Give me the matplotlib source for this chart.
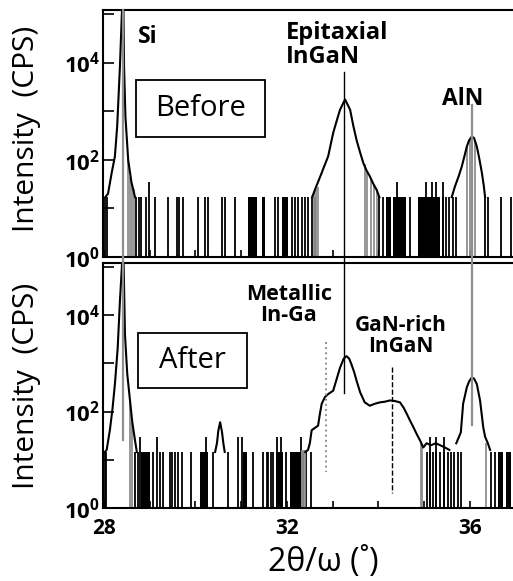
import matplotlib
matplotlib.use('Agg')
import matplotlib.pyplot as plt
from matplotlib.lines import Line2D
from matplotlib.patches import Rectangle
from matplotlib.ticker import NullFormatter
from matplotlib.transforms import blended_transform_factory

plt.rcParams['font.family'] = ['Open Sans', 'DejaVu Sans']
plt.rcParams['mathtext.fontset'] = 'custom'
plt.rcParams['mathtext.rm'] = 'Open Sans'
plt.rcParams['mathtext.bf'] = 'Open Sans:bold'

# ---- data (2theta in degrees, intensity in CPS) ----
# upper panel: before
si_top_x = [28.03, 28.09, 28.17, 28.24, 28.29, 28.35, 28.39, 28.42, 28.44, 28.47, 28.53, 28.60, 28.68]
si_top_y = [17, 20, 54, 117, 490, 8300, 89000, 400000, 8300, 780, 100, 35, 17]
ingan_top_x = [32.55, 32.61, 32.68, 32.76, 32.83, 32.90, 33.01, 33.08, 33.16, 33.27, 33.38, 33.45,
               33.52, 33.60, 33.67, 33.74, 33.81, 33.88, 33.96, 34.02]
ingan_top_y = [17, 24, 35, 54, 80, 117, 355, 600, 1070, 1740, 1070, 500,
               257, 140, 85, 60, 46, 33, 24, 17]
aln_top_x = [35.60, 35.67, 35.75, 35.82, 35.88, 35.93, 35.98, 36.04, 36.09, 36.15, 36.20, 36.26, 36.30, 36.33]
aln_top_y = [17, 28, 45, 72, 120, 186, 250, 300, 280, 186, 110, 54, 30, 17]

count_top = 17.5
spikes_top = [28.03, 28.06, 28.71, 28.77, 28.82, 28.93, 29.11, 29.41, 29.59, 29.64, 29.73,
              30.06, 30.21, 30.28, 30.57, 30.64, 30.86, 31.74, 31.81, 32.10, 32.17, 32.25,
              32.32, 32.39, 32.46, 32.55, 32.62, 34.02, 34.10, 34.68, 35.41, 35.48, 35.55,
              35.62, 35.70, 36.32, 36.39, 36.68, 36.90]
tall_top = [28.99, 34.41, 35.04, 35.18, 35.26, 35.41]
blocks_top = [(31.15, 31.34), (31.45, 31.52), (31.90, 32.03), (34.16, 34.27),
              (34.32, 34.60), (34.86, 35.34)]
gray_drops_top_x = [28.53, 28.57, 28.61, 28.65, 32.60, 32.64, 32.68, 33.70, 33.76, 33.83,
                    33.90, 33.97, 35.93, 36.00, 36.10]
gray_drops_top_y = [100, 45, 30, 25, 22, 25, 28, 80, 55, 40, 30, 25, 180, 260, 240]

# lower panel: after
si_bot_x = [28.02, 28.06, 28.13, 28.19, 28.24, 28.30, 28.35, 28.39, 28.42, 28.44, 28.46,
            28.51, 28.57, 28.62, 28.68, 28.72]
si_bot_y = [14.5, 16, 41, 120, 370, 2000, 19500, 90000, 400000, 40000, 4000,
            600, 170, 60, 25, 14.5]
small_bot_x = [30.43, 30.47, 30.50, 30.54, 30.58, 30.61, 30.64]
small_bot_y = [14.5, 22, 40, 60, 38, 22, 14.5]
ingan_bot_x = [32.40, 32.46, 32.50, 32.54, 32.60, 32.68, 32.72, 32.76, 32.83, 32.90, 33.01,
               33.08, 33.16, 33.24, 33.30, 33.36, 33.41, 33.47, 33.52, 33.60, 33.70, 33.81,
               33.92, 34.03, 34.14, 34.25, 34.36, 34.47, 34.55, 34.62, 34.69, 34.76, 34.83,
               34.91, 34.98, 35.05, 35.15, 35.25, 35.35, 35.45, 35.55]
ingan_bot_y = [14.5, 16, 22, 41, 45, 51, 90, 145, 200, 230, 270,
               450, 810, 1250, 1410, 1250, 950, 650, 440, 250, 155, 132,
               145, 155, 160, 170, 165, 155, 120, 89, 65, 48, 35,
               25, 18, 22, 20, 22, 20, 18, 16]
aln_bot_x = [35.70, 35.76, 35.80, 35.85, 35.93, 35.98, 36.04, 36.09, 36.15, 36.22, 36.29,
             36.33, 36.39, 36.44]
aln_bot_y = [22, 30, 37, 145, 316, 420, 510, 480, 370, 170, 47, 30, 22, 16]

count_bot = 14.5
spikes_bot = [28.02, 28.05, 28.68, 28.75, 29.08, 29.22, 29.30, 29.44, 29.48, 29.55, 29.62,
              29.70, 29.91, 30.39, 30.72, 31.26, 31.48, 31.56, 31.59, 31.66, 31.70, 31.99,
              32.35, 32.42, 32.53, 35.05, 35.12, 35.19, 35.26, 35.34, 35.44, 35.52, 35.59,
              35.66, 35.74, 35.81, 36.47, 36.54]
tall_bot = [28.79, 29.15, 30.24, 30.94, 31.01, 31.79, 31.87, 32.30, 35.12, 35.26, 35.44]
blocks_bot = [(28.82, 29.00), (30.10, 30.28), (31.04, 31.12), (31.77, 31.92), (32.07, 32.30),
              (36.61, 36.72), (36.79, 36.90)]
gray_drops_bot_x = [28.57, 28.62, 32.32, 32.36, 32.40, 34.93, 34.96, 36.36]
gray_drops_bot_y = [170, 60, 16, 16, 16, 25, 20, 22]

# annotation guide lines (peak positions)
guide_x = [28.42, 33.25, 36.04, 32.86, 34.30]

xticks = [28, 32, 36]
xminor = [29, 30, 31, 33, 34, 35]
yticks = [1, 1e2, 1e4]
yminor = [1e1, 1e3, 1e5]
ytick_labels = [r'$\mathbf{10^{0}}$', r'$\mathbf{10^{2}}$', r'$\mathbf{10^{4}}$']

W, H = 513, 581
fig = plt.figure(figsize=(W / 100, H / 100), dpi=100)
ax1 = fig.add_axes([103 / W, 1 - 257 / H, 410 / W, 247 / H])
ax2 = fig.add_axes([103 / W, 1 - 508 / H, 410 / W, 245 / H])

gray = '#8f8f8f'


def draw_panel(ax, curves, spikes, tall, blocks, gx, gy, unit):
    ax.vlines(spikes, 0.9, unit, color='black', lw=1.3)
    ax.vlines(tall, 0.9, 2 * unit, color='black', lw=1.3)
    for a, b in blocks:
        ax.bar(a, unit - 0.9, width=b - a, bottom=0.9, align='edge', color='black', lw=0)
    ax.vlines(gx, 0.9, gy, color=gray, lw=1.3)
    for cx, cy in curves:
        ax.plot(cx, cy, color='black', lw=1.5, solid_joinstyle='round')


draw_panel(ax1, [(si_top_x, si_top_y), (ingan_top_x, ingan_top_y), (aln_top_x, aln_top_y)],
           spikes_top, tall_top, blocks_top, gray_drops_top_x, gray_drops_top_y, count_top)
draw_panel(ax2, [(si_bot_x, si_bot_y), (small_bot_x, small_bot_y), (ingan_bot_x, ingan_bot_y),
                 (aln_bot_x, aln_bot_y)],
           spikes_bot, tall_bot, blocks_bot, gray_drops_bot_x, gray_drops_bot_y, count_bot)

for ax in (ax1, ax2):
    ax.set_yscale('log')
    ax.set_ylim(1, 10 ** 5.08)
    ax.set_xlim(27.98, 36.94)
    ax.set_xticks(xticks)
    ax.set_xticks(xminor, minor=True)
    ax.set_yticks(yticks)
    ax.set_yticks(yminor, minor=True)
    ax.yaxis.set_minor_formatter(NullFormatter())
    ax.set_yticklabels(ytick_labels, fontsize=16)
    ax.tick_params(axis='y', which='both', direction='in', length=8, width=1.2, pad=2)
    ax.tick_params(axis='x', which='both', direction='in', length=5, width=1.2, pad=7)
    ax.spines['right'].set_visible(False)
    for s in ('left', 'top', 'bottom'):
        ax.spines[s].set_linewidth(1.5)
    ax.set_ylabel('Intensity  (CPS)', fontsize=21.5)
    ax.patch.set_alpha(0)

ax1.tick_params(axis='x', labelbottom=False)
ax2.set_xticklabels([str(t) for t in xticks], fontsize=15, fontweight='bold')
ax1.yaxis.set_label_coords(-0.15, 0.52)
ax2.yaxis.set_label_coords(-0.15, 0.50)
ax2.set_xlabel('2θ/ω (˚)', fontsize=23)
ax2.xaxis.set_label_coords(0.537, -0.155)

# boxes with sample labels
ax1.add_patch(Rectangle((0.0805, 0.486), 0.3145, 0.231, transform=ax1.transAxes,
                        fill=False, lw=1.3, ec='black'))
ax1.text(0.238, 0.60, 'Before', transform=ax1.transAxes, fontsize=21, ha='center', va='center')
ax2.add_patch(Rectangle((0.0854, 0.49), 0.2656, 0.224, transform=ax2.transAxes,
                        fill=False, lw=1.3, ec='black'))
ax2.text(0.218, 0.602, 'After', transform=ax2.transAxes, fontsize=21, ha='center', va='center')

# peak labels
ax1.text(28.74, 10 ** 4.52, 'Si', fontsize=16.5, fontweight='bold', ha='left', va='center')
ax1.text(31.98, 10 ** 4.35, 'Epitaxial\nInGaN', fontsize=17, fontweight='bold',
         ha='left', va='center', linespacing=1.0)
ax1.text(35.84, 10 ** 3.24, 'AlN', fontsize=16.5, fontweight='bold', ha='center', va='center')
ax2.text(32.04, 10 ** 4.2, 'Metallic\nIn-Ga', fontsize=15.5, fontweight='bold',
         ha='center', va='center', linespacing=1.0)
ax2.text(34.49, 10 ** 3.56, 'GaN-rich\nInGaN', fontsize=15, fontweight='bold',
         ha='center', va='center', linespacing=1.0)

# guide lines crossing both panels (y extents in figure pixels)
tr = blended_transform_factory(ax1.transData, fig.transFigure)
guide_px = [(10, 440), (72, 393), (105, 425), (342, 472), (367, 493)]
guide_style = [(gray, '-', 1.6), ('black', '-', 1.0), (gray, '-', 1.6),
               (gray, ':', 1.4), ('black', '--', 1.0)]
for gxv, (p0, p1), (c, ls, lw) in zip(guide_x, guide_px, guide_style):
    fig.add_artist(Line2D([gxv, gxv], [1 - p0 / H, 1 - p1 / H], transform=tr,
                          color=c, ls=ls, lw=lw))

fig.savefig('out.png', dpi=100)
